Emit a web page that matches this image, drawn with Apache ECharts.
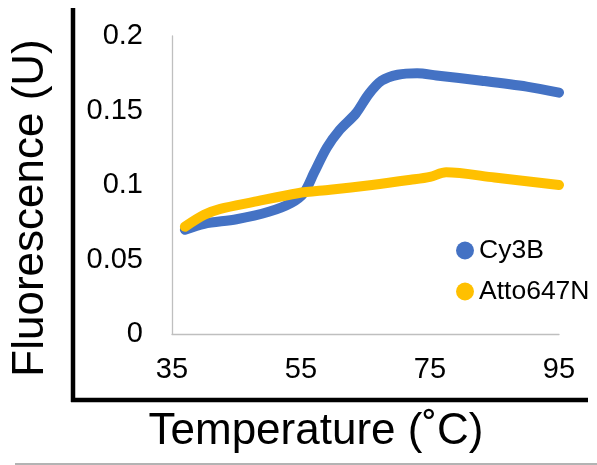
<!DOCTYPE html>
<html>
<head>
<meta charset="utf-8">
<script src="https://cdn.jsdelivr.net/npm/echarts@6/dist/echarts.min.js"></script>
<style>
  html, body { margin: 0; padding: 0; background: #fff; }
  #chart { width: 597px; height: 465px; }
</style>
</head>
<body>
<div id="chart"></div>
<script>
// Melting curves: fluorescence vs temperature for two dyes
const seriesNames = ['Cy3B', 'Atto647N'];

const cy3bTemp = [37, 40, 45, 50, 53.5, 55.5, 57, 59, 61, 63.5, 65.5, 67.5, 70, 73, 76, 83, 90, 95];
const cy3bFluor = [0.070, 0.074, 0.077, 0.082, 0.088, 0.095, 0.108, 0.125, 0.137, 0.148, 0.161, 0.170, 0.174, 0.175, 0.1735, 0.170, 0.166, 0.162];

const attoTemp = [37, 40, 42.5, 47.5, 54.5, 59.5, 66, 72, 75, 77.5, 85, 95];
const attoFluor = [0.072, 0.080, 0.084, 0.0885, 0.0945, 0.0968, 0.100, 0.1035, 0.1055, 0.1085, 0.105, 0.100];

const xTicks = { min: 35, max: 95, step: 20 };
const yTicks = { min: 0, max: 0.2, step: 0.05 };

const FONT = "'Liberation Sans', Arial, sans-serif";
const colors = ['#4472C4', '#FFC000'];

function pairs(xs, ys) { return xs.map((x, i) => [x, ys[i]]); }

const chart = echarts.init(document.getElementById('chart'), null, { renderer: 'canvas' });

chart.setOption({
  animation: false,
  backgroundColor: '#fff',
  color: colors,
  grid: { left: 172, right: 38, top: 36, bottom: 131, containLabel: false },
  xAxis: {
    type: 'value',
    min: xTicks.min, max: xTicks.max, interval: xTicks.step,
    axisLine: { show: true, lineStyle: { color: '#bfbfbf', width: 1.3 } },
    axisTick: { show: false },
    splitLine: { show: false },
    axisLabel: { color: '#000', fontSize: 29, fontFamily: FONT, margin: 21 }
  },
  yAxis: {
    type: 'value',
    min: yTicks.min, max: yTicks.max, interval: yTicks.step,
    axisLine: { show: true, lineStyle: { color: '#bfbfbf', width: 1.3 } },
    axisTick: { show: false },
    splitLine: { show: false },
    axisLabel: { color: '#000', fontSize: 29, fontFamily: FONT, margin: 29 }
  },
  legend: {
    orient: 'vertical',
    left: 451, top: 232,
    icon: 'circle',
    itemWidth: 18, itemHeight: 18,
    itemGap: 14,
    textStyle: { color: '#000', fontSize: 26.5, fontFamily: FONT, lineHeight: 26 },
    data: seriesNames
  },
  series: [
    {
      name: seriesNames[0], type: 'line', smooth: 0.3,
      showSymbol: false, symbol: 'none',
      lineStyle: { width: 10, cap: 'round', join: 'round', color: colors[0] },
      data: pairs(cy3bTemp, cy3bFluor)
    },
    {
      name: seriesNames[1], type: 'line', smooth: 0.3,
      showSymbol: false, symbol: 'none',
      lineStyle: { width: 10, cap: 'round', join: 'round', color: colors[1] },
      data: pairs(attoTemp, attoFluor)
    }
  ],
  graphic: [
    // frame around the plot region
    { type: 'line', shape: { x1: 73, y1: 8, x2: 73, y2: 402 }, style: { stroke: '#000', lineWidth: 4.5 } },
    { type: 'line', shape: { x1: 71, y1: 400, x2: 588, y2: 400 }, style: { stroke: '#000', lineWidth: 4.5 } },
    { type: 'line', shape: { x1: 15, y1: 464, x2: 597, y2: 464 }, style: { stroke: '#9a9a9a', lineWidth: 1.5 } },
    // axis titles
    {
      type: 'text', x: 31, y: 208, rotation: Math.PI / 2,
      style: { text: 'Fluorescence (U)', font: '44px ' + FONT, fill: '#000', textAlign: 'center', textVerticalAlign: 'middle' }
    },
    {
      type: 'text', x: 316, y: 432,
      style: { text: 'Temperature (˚C)', font: '44px ' + FONT, fill: '#000', textAlign: 'center', textVerticalAlign: 'middle' }
    }
  ]
});
</script>
</body>
</html>
